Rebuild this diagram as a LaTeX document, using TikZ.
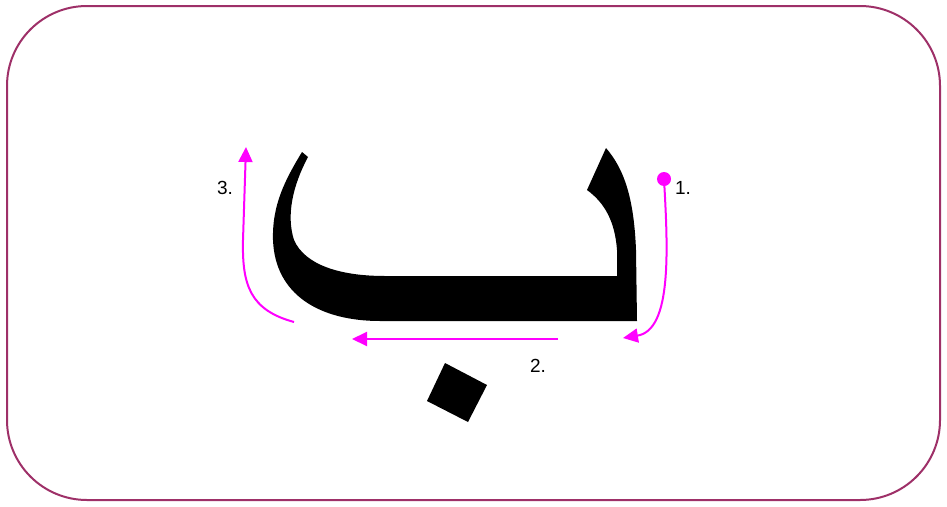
\documentclass[tikz,border=0pt]{standalone}
\usepackage{fontspec}
\setmainfont{Liberation Sans}
\usetikzlibrary{arrows.meta}
\definecolor{frame}{RGB}{158,48,104}
\definecolor{pen}{RGB}{255,0,255}
\tikzset{
  card/.style={draw=frame, line width=2pt, rounded corners=80pt},
  glyph/.style={fill=black, draw=none},
  order/.style={draw=pen, line width=2pt, -{Triangle[length=15pt, width=14pt]}},
  start/.style={fill=pen, draw=none},
  num/.style={font=\fontsize{19}{21}\selectfont, inner sep=0pt},
}
\begin{document}
\begin{tikzpicture}[x=1pt, y=-1pt]
  \useasboundingbox (0,0) rectangle (947,506);

  %% frame
  \draw[card] (7,6) rectangle (940,500);

  %% the letter
  \fill[glyph] (302,152) -- (308,157)
    .. controls (293,185) and (286,215) .. (294,240)
    .. controls (305,265) and (340,276) .. (385,276)
    -- (617,276) -- (617,250)
    .. controls (615,222) and (605,203) .. (587,190)
    -- (606,148)
    .. controls (625,170) and (634,200) .. (636,250)
    -- (637,321) -- (380,321)
    .. controls (320,321) and (275,295) .. (273,240)
    .. controls (272,205) and (285,180) .. (302,152) -- cycle;
  \fill[glyph] (445,363) -- (487,385) -- (468,422) -- (427,401) -- cycle;

  %% stroke order
  \coordinate (s1) at (664,179);
  \coordinate (e1) at (623,338);
  \coordinate (s2) at (558,339);
  \coordinate (e2) at (352,339);
  \coordinate (s3) at (294,322);
  \coordinate (m3) at (243,240);
  \coordinate (e3) at (246,147);

  \path[start] (s1) circle (7);
  \draw[order] (s1) .. controls (668,250) and (672,330) .. (e1);
  \draw[order] (s2) -- (e2);
  \draw[order] (s3) .. controls (250,310) and (242,285) .. (m3) -- (e3);

  \node[num] (n1) at (683,188) {1.};
  \node[num] (n2) at (538,366) {2.};
  \node[num] (n3) at (225,188) {3.};
\end{tikzpicture}
\end{document}
